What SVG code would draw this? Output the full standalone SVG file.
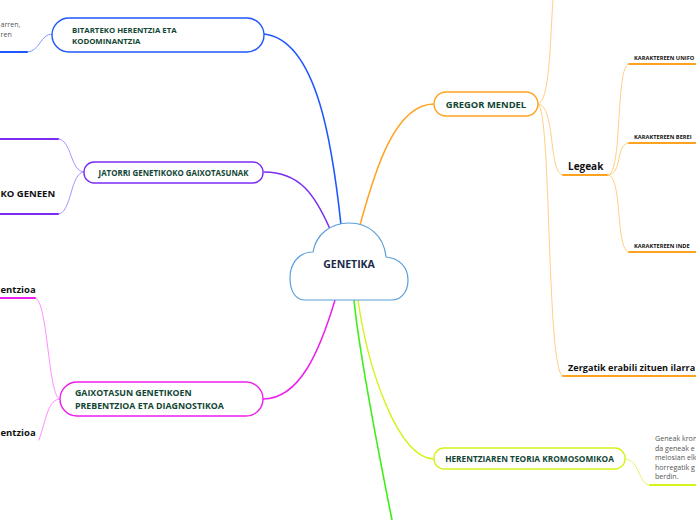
<svg xmlns="http://www.w3.org/2000/svg" width="696" height="520" viewBox="0 0 696 520">
<style>
.c{fill:none;stroke-linecap:round}
.nt{font-family:"Open Sans","Noto Sans",sans-serif;font-weight:bold;fill:#114634}
.st{font-family:"Open Sans","Noto Sans",sans-serif;font-weight:bold;fill:#111}
.gt{font-family:"Open Sans","Noto Sans",sans-serif;fill:#555;font-size:7.1px}
.box{fill:#fff;stroke-width:1.4}
</style>
<rect width="696" height="520" fill="#fff"/>
<g id="connectors">
  <path class="c" d="M341,225 C333,150 318,40 264,34" stroke="#1f57ff" stroke-width="1.6"/>
  <path class="c" d="M330,229 C315,195 300,172 264,172" stroke="#7a2cf5" stroke-width="1.5"/>
  <path class="c" d="M360,225 C375,170 395,104 434,104" stroke="#ffa21f" stroke-width="1.5"/>
  <path class="c" d="M335,300 C320,350 300,399 263,399" stroke="#ee1eee" stroke-width="1.5"/>
  <path class="c" d="M354,300 C360,360 380,460 392,520" stroke="#3cf018" stroke-width="1.6"/>
  <path class="c" d="M358,300 C368,370 398,458 434,459" stroke="#d6f21a" stroke-width="1.4"/>
  <path class="c" d="M52,34 C40,34 40,52 27,52" stroke="#7f9cff" stroke-width="1"/>
  <path class="c" d="M0,52 H27" stroke="#1f57ff" stroke-width="2"/>
  <path class="c" d="M84,172 C70,172 72,139 58,139" stroke="#b18dff" stroke-width="1"/>
  <path class="c" d="M84,172 C70,172 72,214 58,214" stroke="#b18dff" stroke-width="1"/>
  <path class="c" d="M0,139 H58" stroke="#7a2cf5" stroke-width="2"/>
  <path class="c" d="M0,214 H58" stroke="#7a2cf5" stroke-width="2"/>
  <path class="c" d="M60,399 C48,399 48,298 35,298" stroke="#ff8cff" stroke-width="1"/>
  <path class="c" d="M60,399 C48,399 46,420 39,440" stroke="#ff8cff" stroke-width="1"/>
  <path class="c" d="M0,298 H35" stroke="#ee1eee" stroke-width="2"/>
  <path class="c" d="M538,104 C550,102 550,40 553,0" stroke="#ffcf85" stroke-width="1"/>
  <path class="c" d="M538,104 C556,104 548,175 563,175" stroke="#ffcf85" stroke-width="1"/>
  <path class="c" d="M538,104 C552,108 546,376 563,376" stroke="#ffcf85" stroke-width="1"/>
  <path class="c" d="M563,175 H608" stroke="#ffa21f" stroke-width="2"/>
  <path class="c" d="M563,376 H696" stroke="#ffa21f" stroke-width="2"/>
  <path class="c" d="M608,175 C623,175 615,64 629,64" stroke="#ffcf85" stroke-width="1"/>
  <path class="c" d="M608,175 C623,175 615,143 629,143" stroke="#ffcf85" stroke-width="1"/>
  <path class="c" d="M608,175 C623,175 615,252 629,252" stroke="#ffcf85" stroke-width="1"/>
  <path class="c" d="M629,64 H696" stroke="#ffa21f" stroke-width="2"/>
  <path class="c" d="M629,143 H696" stroke="#ffa21f" stroke-width="2"/>
  <path class="c" d="M629,252 H696" stroke="#ffa21f" stroke-width="2"/>
  <path class="c" d="M625,459 C640,459 638,485 650,485" stroke="#e4f56a" stroke-width="1"/>
  <path class="c" d="M650,485 H696" stroke="#d6f21a" stroke-width="2"/>
</g>
<g id="genetika">
  <path d="M305,300 C296,300 290,292 290,278 C290,262 300,252 313,252 C316,234 331,223 349,223 C369,223 384,236 386,257 C398,258 408,266 408,280 C408,293 400,300 392,300 Z" fill="#fff" stroke="#5b9fd8" stroke-width="1.2"/>
  <text x="349" y="268" text-anchor="middle" font-family="Open Sans, Noto Sans, sans-serif" font-weight="bold" font-size="10.5" fill="#1a2a4a">GENETIKA</text>
</g>
<g id="bitarteko">
  <rect class="box" x="52" y="18" width="212" height="34" rx="17" stroke="#1f57ff"/>
  <text class="nt" font-size="7.8" x="72" y="33">BITARTEKO HERENTZIA ETA</text>
  <text class="nt" font-size="7.8" x="72" y="44">KODOMINANTZIA</text>
</g>
<g id="bitarteko-sub">
  <text class="gt" x="0.5" y="27">arren,</text>
  <text class="gt" x="0.5" y="37">ren</text>
</g>
<g id="jatorri">
  <rect class="box" x="84" y="162" width="179" height="21" rx="10" stroke="#7a2cf5"/>
  <text class="nt" font-size="7.9" x="173.5" y="175.5" text-anchor="middle">JATORRI GENETIKOKO GAIXOTASUNAK</text>
</g>
<g id="jatorri-sub">
  <text class="st" font-size="9.5" x="0.5" y="196.5">KO GENEEN</text>
</g>
<g id="gaixotasun">
  <rect class="box" x="60" y="382" width="203" height="34" rx="17" stroke="#ee1eee"/>
  <text class="nt" font-size="8.8" x="75" y="396">GAIXOTASUN GENETIKOEN</text>
  <text class="nt" font-size="8.8" x="75" y="408.5">PREBENTZIOA ETA DIAGNOSTIKOA</text>
</g>
<g id="gaixotasun-sub">
  <text class="st" font-size="9.5" x="0.5" y="293">entzioa</text>
  <text class="st" font-size="9.5" x="0.5" y="436">entzioa</text>
</g>
<g id="mendel">
  <rect class="box" x="434" y="92" width="104" height="24" rx="12" stroke="#ffa21f"/>
  <text class="nt" font-size="9.4" x="486" y="107.5" text-anchor="middle">GREGOR MENDEL</text>
</g>
<g id="legeak">
  <text class="st" font-size="10" x="568" y="170">Legeak</text>
</g>
<g id="karaktereak">
  <text class="st" font-size="5.7" x="634" y="60">KARAKTEREEN UNIFO</text>
  <text class="st" font-size="5.7" x="634" y="139">KARAKTEREEN BEREI</text>
  <text class="st" font-size="5.7" x="634" y="248">KARAKTEREEN INDE</text>
</g>
<g id="zergatik">
  <text class="st" font-size="9.1" x="568" y="371">Zergatik erabili zituen ilarra</text>
</g>
<g id="herentziaren">
  <rect class="box" x="434" y="448" width="191" height="21" rx="10" stroke="#d6f21a"/>
  <text class="nt" font-size="8.3" x="529.5" y="461.5" text-anchor="middle">HERENTZIAREN TEORIA KROMOSOMIKOA</text>
</g>
<g id="herentziaren-sub">
  <text class="gt" x="655" y="441">Geneak kron</text>
  <text class="gt" x="655" y="450.5">da geneak e</text>
  <text class="gt" x="655" y="460">meiosian elk</text>
  <text class="gt" x="655" y="469.5">horregatik g</text>
  <text class="gt" x="655" y="479">berdin.</text>
</g>
</svg>
